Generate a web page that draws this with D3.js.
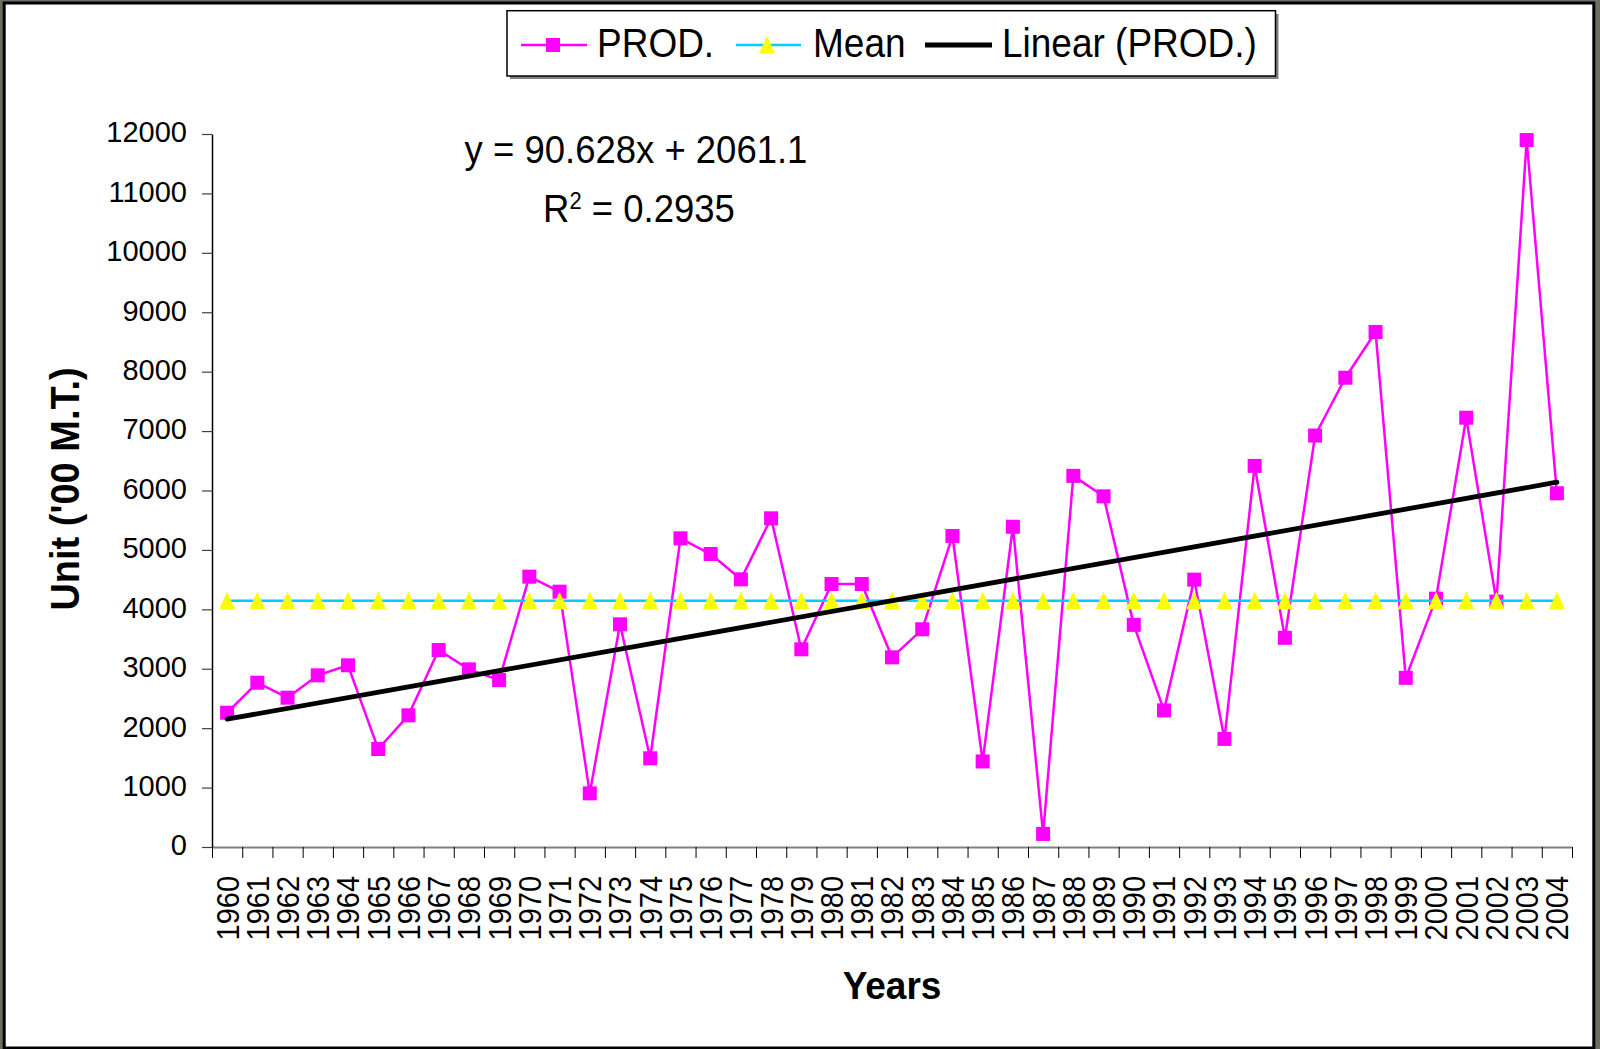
<!DOCTYPE html>
<html><head><meta charset="utf-8">
<script src="https://cdn.jsdelivr.net/npm/d3@7"></script>
<style>
body{margin:0;background:#6e6e60;}
svg{display:block;}
text{font-family:"Liberation Sans",Arial,sans-serif;fill:#000;}
</style>
</head><body>
<svg id="c" width="1600" height="1049"></svg>
<script>
const years = ["1960","1961","1962","1963","1964","1965","1966","1967","1968","1969",
  "1970","1971","1972","1973","1974","1975","1976","1977","1978","1979",
  "1980","1981","1982","1983","1984","1985","1986","1987","1988","1989",
  "1990","1991","1992","1993","1994","1995","1996","1997","1998","1999",
  "2000","2001","2002","2003","2004"];
const prodValues = [2260,2765,2513,2889,3058,1649,2216,3315,2990,2810,
  4550,4297,903,3748,1493,5195,4931,4505,5532,3327,
  4426,4426,3192,3664,5234,1440,5390,220,6246,5902,
  3739,2299,4500,1819,6414,3520,6925,7898,8668,2847,
  4180,7225,4130,11898,5953];
const meanValues = [4145.5,4145.5,4145.5,4145.5,4145.5,4145.5,4145.5,4145.5,4145.5,4145.5,
  4145.5,4145.5,4145.5,4145.5,4145.5,4145.5,4145.5,4145.5,4145.5,4145.5,
  4145.5,4145.5,4145.5,4145.5,4145.5,4145.5,4145.5,4145.5,4145.5,4145.5,
  4145.5,4145.5,4145.5,4145.5,4145.5,4145.5,4145.5,4145.5,4145.5,4145.5,
  4145.5,4145.5,4145.5,4145.5,4145.5];
const yTickValues = [0,1000,2000,3000,4000,5000,6000,7000,8000,9000,10000,11000,12000];
const yTickLabels = ["0","1000","2000","3000","4000","5000","6000","7000","8000","9000","10000","11000","12000"];
const trendSlope = 90.628;
const trendIntercept = 2061.1;
const trendR2 = "0.2935";
const seriesNames = ["PROD.","Mean","Linear (PROD.)"];
const axisTitles = {x:"Years", y:"Unit ('00 M.T.)"};

const svg = d3.select("#c");
svg.append("rect").attr("x",4.2).attr("y",3).attr("width",1589.6).attr("height",1045)
  .attr("fill","#fff").attr("stroke","#000").attr("stroke-width",3);

const x = d3.scaleBand().domain(years).range([212,1572]).padding(0);
const cx = d => x(d) + x.bandwidth()/2;
const xb = d3.scaleLinear().domain([0,years.length]).range([212,1572]);
const y = d3.scaleLinear().domain([0,12000]).range([847,134]);

// X axis (ticks at category boundaries)
const gx = svg.append("g").attr("transform","translate(0,847)")
  .call(d3.axisBottom(xb).tickValues(d3.range(0,years.length+1)).tickSize(11).tickSizeOuter(0).tickFormat(""));
gx.select(".domain").attr("stroke","#808080").attr("stroke-width",2.2);
gx.selectAll(".tick line").attr("stroke","#000").attr("stroke-width",1);

// X labels
svg.append("g").selectAll("text").data(years).join("text")
  .attr("transform", d => `translate(${cx(d)},876) rotate(-90) scale(1,1.1)`)
  .attr("text-anchor","end").attr("dy","0.36em")
  .attr("font-size",29).text(d => d);

// Y axis
const gy = svg.append("g").attr("transform","translate(212,0)")
  .call(d3.axisLeft(y).tickValues(yTickValues).tickSize(10).tickPadding(15).tickSizeOuter(0)
    .tickFormat((d,i) => yTickLabels[i]));
gy.select(".domain").attr("stroke","#000").attr("stroke-width",1.5);
gy.selectAll(".tick line").attr("stroke","#404040").attr("stroke-width",1.2);
gy.selectAll(".tick text").attr("font-size",29).attr("dy","0.27em")
  .style("font-family",'"Liberation Sans",Arial,sans-serif').attr("fill","#000");

// PROD series
const line = d3.line().x((d,i) => cx(years[i])).y(d => y(d));
svg.append("path").datum(prodValues).attr("d",line).attr("fill","none")
  .attr("stroke","#FF00FF").attr("stroke-width",2.5).attr("stroke-linejoin","round");
svg.append("g").selectAll("rect").data(prodValues).join("rect")
  .attr("x",(d,i)=>cx(years[i])-7).attr("y",d=>y(d)-7).attr("width",14).attr("height",14)
  .attr("fill","#FF00FF");

// Mean series
svg.append("path").datum(meanValues).attr("d",line).attr("fill","none")
  .attr("stroke","#00CCFF").attr("stroke-width",2.6);
const tri = "M0,-9L8,8.6L-8,8.6Z";
svg.append("g").selectAll("path").data(meanValues).join("path")
  .attr("transform",(d,i)=>`translate(${cx(years[i])},${y(d)})`)
  .attr("d",tri).attr("fill","#FFFF00");

// Linear trend
const trendAt = i => trendSlope*(i+1) + trendIntercept;
const n = years.length;
svg.append("line")
  .attr("x1",cx(years[0])).attr("y1",y(trendAt(0)))
  .attr("x2",cx(years[n-1])).attr("y2",y(trendAt(n-1)))
  .attr("stroke","#000").attr("stroke-width",4.8).attr("stroke-linecap","round");

// Equation
const eq1 = `y = ${trendSlope}x + ${trendIntercept}`;
svg.append("text").attr("transform","translate(636,163) scale(1,1.07)")
  .attr("text-anchor","middle").attr("font-size",36.5).text(eq1);
const eq2 = svg.append("text").attr("transform","translate(639,221.7) scale(1,1.07)")
  .attr("text-anchor","middle").attr("font-size",36.5);
eq2.append("tspan").text("R");
eq2.append("tspan").attr("font-size",22).attr("dy",-12).text("2");
eq2.append("tspan").attr("dy",12).text(" = " + trendR2);

// Legend
const lg = svg.append("g");
lg.append("rect").attr("x",510).attr("y",14).attr("width",768.5).attr("height",65).attr("fill","#808080");
lg.append("rect").attr("x",507).attr("y",10.7).attr("width",768.5).attr("height",65.3)
  .attr("fill","#fff").attr("stroke","#000").attr("stroke-width",1.5);
const ly = 45;
lg.append("line").attr("x1",521).attr("x2",587).attr("y1",ly).attr("y2",ly).attr("stroke","#FF00FF").attr("stroke-width",2.5);
lg.append("rect").attr("x",553-7).attr("y",ly-7).attr("width",14).attr("height",14).attr("fill","#FF00FF");
lg.append("line").attr("x1",736).attr("x2",801).attr("y1",ly).attr("y2",ly).attr("stroke","#00CCFF").attr("stroke-width",2.6);
lg.append("path").attr("transform",`translate(767,${ly})`).attr("d",tri).attr("fill","#FFFF00");
lg.append("line").attr("x1",925).attr("x2",992).attr("y1",ly).attr("y2",ly).attr("stroke","#000").attr("stroke-width",4.8);
const legX = [597,813,1002];
lg.selectAll("text.lt").data(seriesNames).join("text").attr("class","lt")
  .attr("transform",(d,i)=>`translate(${legX[i]},57) scale(1,1.09)`)
  .attr("font-size",37).text(d=>d);

// Axis titles
svg.append("text").attr("transform","translate(892,999) scale(1,1.07)")
  .attr("text-anchor","middle").attr("font-size",37).attr("font-weight","bold").text(axisTitles.x);
svg.append("text").attr("transform","translate(79,489) rotate(-90) scale(1,1.08)")
  .attr("text-anchor","middle").attr("font-size",38).attr("font-weight","bold").text(axisTitles.y);
</script>
</body></html>
